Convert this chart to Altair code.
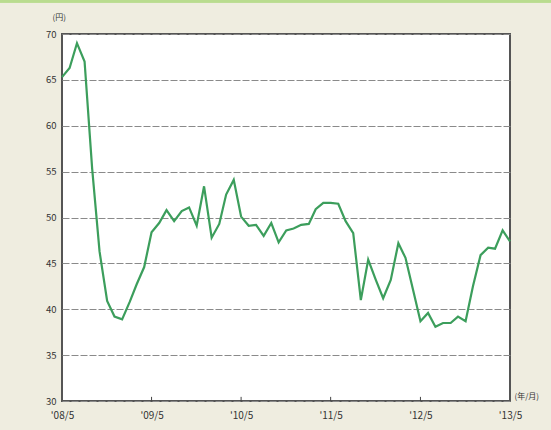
import altair as alt
import pandas as pd

months = [
    "2008-05", "2008-06", "2008-07", "2008-08", "2008-09", "2008-10", "2008-11", "2008-12",
    "2009-01", "2009-02", "2009-03", "2009-04", "2009-05", "2009-06", "2009-07", "2009-08",
    "2009-09", "2009-10", "2009-11", "2009-12", "2010-01", "2010-02", "2010-03", "2010-04",
    "2010-05", "2010-06", "2010-07", "2010-08", "2010-09", "2010-10", "2010-11", "2010-12",
    "2011-01", "2011-02", "2011-03", "2011-04", "2011-05", "2011-06", "2011-07", "2011-08",
    "2011-09", "2011-10", "2011-11", "2011-12", "2012-01", "2012-02", "2012-03", "2012-04",
    "2012-05", "2012-06", "2012-07", "2012-08", "2012-09", "2012-10", "2012-11", "2012-12",
    "2013-01", "2013-02", "2013-03", "2013-04", "2013-05",
]
prices = [
    65.3, 66.3, 69.0, 67.0, 55.3, 46.3, 40.9, 39.2, 38.9, 40.8, 42.7, 44.6,
    48.4, 49.4, 50.8, 49.6, 50.7, 51.1, 49.1, 53.4, 47.8, 49.3, 52.5, 54.1,
    50.1, 49.1, 49.2, 48.0, 49.4, 47.3, 48.6, 48.8, 49.2, 49.3, 50.9, 51.6,
    51.6, 51.5, 49.6, 48.3, 41.0, 45.4, 43.2, 41.2, 43.2, 47.2, 45.6, 42.1,
    38.7, 39.6, 38.1, 38.5, 38.5, 39.2, 38.7, 42.5, 45.9, 46.7, 46.6, 48.6,
    47.4,
]
tick_months = ["2008-05", "2009-05", "2010-05", "2011-05", "2012-05", "2013-05"]
inner_ticks = ["2009-05", "2010-05", "2011-05", "2012-05"]
y_ticks = [30, 35, 40, 45, 50, 55, 60, 65, 70]

df = pd.DataFrame({"month": [m + "-01" for m in months], "price": prices})
ticks_df = pd.DataFrame({"month": [m + "-01" for m in inner_ticks], "y0": 30, "y1": 30.45})

FONT = "Noto Sans CJK JP"
x_scale = alt.Scale(domain=[tick_months[0] + "-01", tick_months[-1] + "-01"], type="utc")
y_scale = alt.Scale(domain=[30, 70], nice=False, zero=False)

line = alt.Chart(df).mark_line(color="#3c9e5c", strokeWidth=2.2).encode(
    x=alt.X(
        "month:T",
        scale=x_scale,
        axis=alt.Axis(
            values=[m + "-01" for m in tick_months],
            labelExpr="\"'\" + utcFormat(datum.value, '%y/%-m')",
            grid=False,
            ticks=False,
            domain=False,
            labelFlush=False,
            labelPadding=9,
            labelFontSize=10,
            labelColor="#333333",
            labelFont=FONT,
            title="(年/月)",
            titleFont=FONT,
            titleFontSize=8,
            titleFontWeight="normal",
            titleColor="#333333",
            titleAngle=0,
            titleAlign="left",
            titleBaseline="bottom",
            titleX=452,
            titleY=-1,
        ),
    ),
    y=alt.Y(
        "price:Q",
        scale=y_scale,
        axis=alt.Axis(
            values=y_ticks,
            grid=True,
            gridColor="#8a8a8a",
            gridDash=[7, 2],
            gridWidth=1,
            ticks=False,
            domain=False,
            labelFlush=False,
            labelPadding=6,
            labelFontSize=9.5,
            labelColor="#333333",
            labelFont=FONT,
            title="(円)",
            titleFont=FONT,
            titleFontSize=8,
            titleFontWeight="normal",
            titleColor="#333333",
            titleAngle=0,
            titleAlign="left",
            titleBaseline="middle",
            titleX=-10,
            titleY=-17,
        ),
    ),
)

tick_rules = alt.Chart(ticks_df).mark_rule(color="#444444", strokeWidth=1).encode(
    x=alt.X("month:T", scale=x_scale),
    y=alt.Y("y0:Q", scale=y_scale),
    y2="y1:Q",
)

top_band = alt.Chart(ticks_df).mark_rule(color="#b9dc8f", strokeWidth=3).encode(
    x=alt.value(-62), x2=alt.value(489), y=alt.value(-33)
)

chart = alt.layer(tick_rules, line, top_band).properties(
    width=448,
    height=367,
    background="#efede0",
    padding={"left": 62, "top": 34, "right": 41, "bottom": 29},
    autosize=alt.AutoSizeParams(type="none"),
).configure_view(
    fill="white",
    stroke="#555555",
    strokeWidth=2,
)

chart.save("out.html", embed_options={"renderer": "svg", "actions": False})
